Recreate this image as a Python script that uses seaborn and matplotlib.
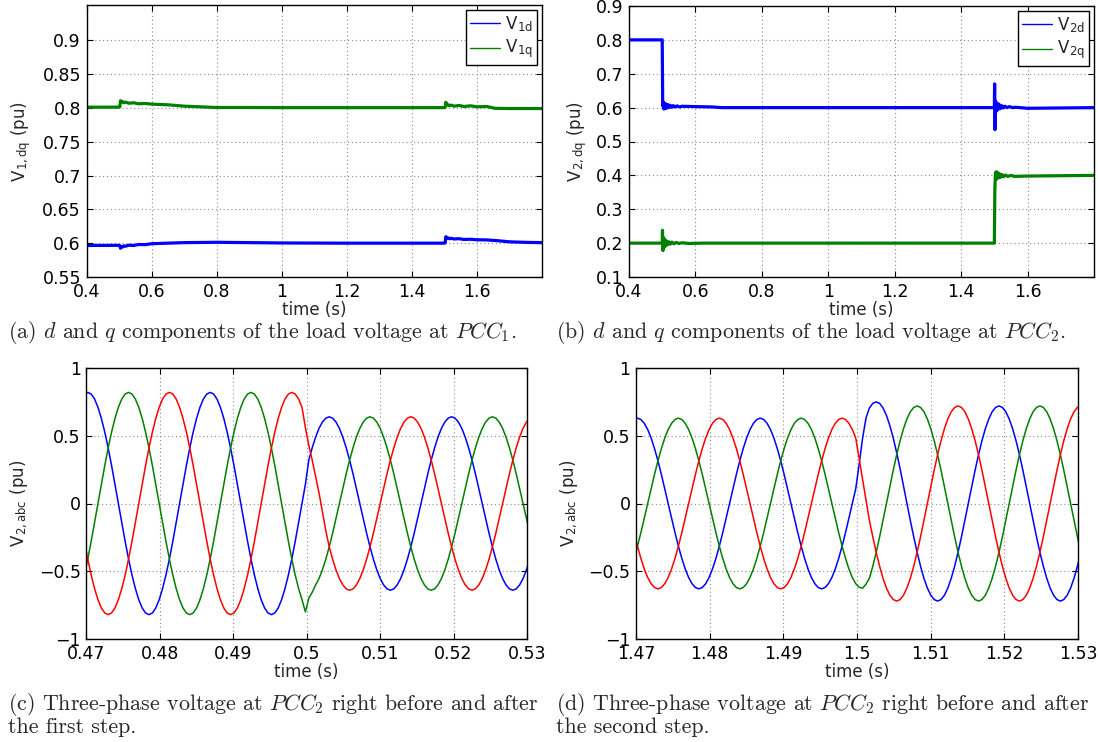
import numpy as np
import matplotlib
matplotlib.use("Agg")
import matplotlib.pyplot as plt
from matplotlib.ticker import FuncFormatter
import seaborn as sns

# ---------------- (a) dq voltage at PCC1
t_1q = [0.400, 0.500, 0.5025, 0.5045, 0.507, 0.510, 0.515, 0.520, 0.530, 0.545,
        0.560, 0.580, 0.600, 0.650, 0.700, 0.750, 0.800, 0.900, 1.000, 1.200,
        1.400, 1.500, 1.5025, 1.5045, 1.507, 1.510, 1.515, 1.520, 1.530, 1.545,
        1.560, 1.580, 1.600, 1.630, 1.655, 1.700, 1.800]
v_1q = [0.8010, 0.8010, 0.8015, 0.8105, 0.8085, 0.8095, 0.8075, 0.8085, 0.8068, 0.8075,
        0.8060, 0.8065, 0.8055, 0.8045, 0.8025, 0.8015, 0.8005, 0.8005, 0.8003, 0.8003,
        0.8003, 0.8003, 0.8010, 0.8082, 0.8045, 0.8050, 0.8030, 0.8040, 0.8025, 0.8035,
        0.8020, 0.8030, 0.8015, 0.8020, 0.7993, 0.7990, 0.7990]
t_1d = [0.400, 0.500, 0.5025, 0.5045, 0.507, 0.510, 0.515, 0.520, 0.530, 0.545,
        0.560, 0.580, 0.600, 0.650, 0.700, 0.800, 0.900, 1.000, 1.200, 1.400,
        1.500, 1.5025, 1.5045, 1.507, 1.510, 1.515, 1.520, 1.530, 1.545, 1.560,
        1.580, 1.600, 1.630, 1.660, 1.700, 1.750, 1.800]
v_1d = [0.5966, 0.5968, 0.5965, 0.5925, 0.5950, 0.5942, 0.5960, 0.5955, 0.5970, 0.5966,
        0.5980, 0.5978, 0.5992, 0.6000, 0.6008, 0.6013, 0.6008, 0.6003, 0.6000, 0.6000,
        0.6000, 0.6005, 0.6095, 0.6075, 0.6082, 0.6066, 0.6072, 0.6062, 0.6066, 0.6055,
        0.6058, 0.6050, 0.6048, 0.6038, 0.6020, 0.6012, 0.6008]

# ---------------- (b) dq voltage at PCC2
t_2d = [0.400, 0.500, 0.5015, 0.503, 0.505, 0.507, 0.509, 0.511, 0.514, 0.517,
        0.520, 0.524, 0.528, 0.533, 0.538, 0.545, 0.552, 0.560, 0.600, 0.650,
        0.680, 1.500, 1.5008, 1.5018, 1.503, 1.505, 1.508, 1.511, 1.514, 1.518,
        1.522, 1.527, 1.532, 1.538, 1.545, 1.555, 1.565, 1.600, 1.700, 1.800]
v_2d = [0.800, 0.800, 0.605, 0.617, 0.596, 0.613, 0.597, 0.611, 0.599, 0.609,
        0.600, 0.607, 0.601, 0.606, 0.602, 0.605, 0.602, 0.604, 0.603, 0.602,
        0.600, 0.600, 0.670, 0.535, 0.620, 0.588, 0.614, 0.594, 0.610, 0.597,
        0.606, 0.599, 0.604, 0.600, 0.603, 0.600, 0.601, 0.598, 0.599, 0.600]
t_2q = [0.400, 0.500, 0.5008, 0.5022, 0.504, 0.506, 0.508, 0.510, 0.513, 0.516,
        0.520, 0.524, 0.529, 0.535, 0.542, 0.550, 0.560, 0.580, 0.620, 1.500,
        1.5015, 1.503, 1.5045, 1.506, 1.508, 1.511, 1.514, 1.518, 1.522, 1.527,
        1.533, 1.540, 1.550, 1.560, 1.600, 1.700, 1.800]
v_2q = [0.200, 0.200, 0.238, 0.178, 0.216, 0.188, 0.210, 0.192, 0.206, 0.195,
        0.204, 0.197, 0.203, 0.198, 0.202, 0.199, 0.201, 0.199, 0.200, 0.200,
        0.360, 0.400, 0.410, 0.388, 0.410, 0.392, 0.406, 0.394, 0.403, 0.396,
        0.401, 0.397, 0.400, 0.397, 0.398, 0.399, 0.400]

# ---------------- (c) abc voltage at PCC2 around the first step
# samples every 1/36 of a 60 Hz cycle, first sample just before 0.47 s
t_c = 0.4702 + (np.arange(132) - 1) / 2160.0
va_c = ([0.808]
        + [0.820, 0.808, 0.771, 0.710, 0.628, 0.527, 0.410, 0.280, 0.142, 0.0, -0.142, -0.280,
           -0.410, -0.527, -0.628, -0.710, -0.771, -0.808, -0.820, -0.808, -0.771, -0.710, -0.628, -0.527,
           -0.410, -0.280, -0.142, 0.0, 0.142, 0.280, 0.410, 0.527, 0.628, 0.710, 0.771, 0.808]
        + [0.820, 0.808, 0.771, 0.710, 0.628, 0.527, 0.410, 0.280, 0.142, 0.0, -0.142, -0.280,
           -0.410, -0.527, -0.628, -0.710, -0.771, -0.808, -0.820, -0.808, -0.771, -0.710, -0.628, -0.527,
           -0.410, -0.280, -0.142, 0.0, 0.142]
        + [0.320, 0.411, 0.490, 0.554, 0.601, 0.630]
        + [0.640, 0.630, 0.601, 0.554, 0.490, 0.411, 0.320, 0.219, 0.111, 0.0, -0.111, -0.219,
           -0.320, -0.411, -0.490, -0.554, -0.601, -0.630, -0.640, -0.630, -0.601, -0.554, -0.490, -0.411,
           -0.320, -0.219, -0.111, 0.0, 0.111, 0.219, 0.320, 0.411, 0.490, 0.554, 0.601, 0.630]
        + [0.640, 0.630, 0.601, 0.554, 0.490, 0.411, 0.320, 0.219, 0.111, 0.0, -0.111, -0.219,
           -0.320, -0.411, -0.490, -0.554, -0.601, -0.630, -0.640, -0.630, -0.601, -0.554, -0.490, -0.411])
vb_c = ([-0.527, -0.410, -0.280, -0.142, 0.0, 0.142, 0.280, 0.410, 0.527, 0.628, 0.710, 0.771, 0.808]
        + [0.820, 0.808, 0.771, 0.710, 0.628, 0.527, 0.410, 0.280, 0.142, 0.0, -0.142, -0.280,
           -0.410, -0.527, -0.628, -0.710, -0.771, -0.808, -0.820, -0.808, -0.771, -0.710, -0.628, -0.527,
           -0.410, -0.280, -0.142, 0.0, 0.142, 0.280, 0.410, 0.527, 0.628, 0.710, 0.771, 0.808]
        + [0.820, 0.808, 0.771, 0.710, 0.628, 0.527, 0.410, 0.280, 0.142, 0.0, -0.142, -0.280,
           -0.410, -0.527, -0.628, -0.710, -0.800]
        + [-0.700, -0.655, -0.601, -0.554, -0.490, -0.411]
        + [-0.320, -0.219, -0.111, 0.0, 0.111, 0.219, 0.320, 0.411, 0.490, 0.554, 0.601, 0.630]
        + [0.640, 0.630, 0.601, 0.554, 0.490, 0.411, 0.320, 0.219, 0.111, 0.0, -0.111, -0.219,
           -0.320, -0.411, -0.490, -0.554, -0.601, -0.630, -0.640, -0.630, -0.601, -0.554, -0.490, -0.411,
           -0.320, -0.219, -0.111, 0.0, 0.111, 0.219, 0.320, 0.411, 0.490, 0.554, 0.601, 0.630]
        + [0.640, 0.630, 0.601, 0.554, 0.490, 0.411, 0.320, 0.219, 0.111, 0.0, -0.111, -0.219])
vc_c = ([-0.280, -0.410, -0.527, -0.628, -0.710, -0.771, -0.808, -0.820, -0.808, -0.771, -0.710, -0.628,
         -0.527, -0.410, -0.280, -0.142, 0.0, 0.142, 0.280, 0.410, 0.527, 0.628, 0.710, 0.771, 0.808]
        + [0.820, 0.808, 0.771, 0.710, 0.628, 0.527, 0.410, 0.280, 0.142, 0.0, -0.142, -0.280,
           -0.410, -0.527, -0.628, -0.710, -0.771, -0.808, -0.820, -0.808, -0.771, -0.710, -0.628, -0.527,
           -0.410, -0.280, -0.142, 0.0, 0.142, 0.280, 0.410, 0.527, 0.628, 0.710, 0.771, 0.808]
        + [0.820, 0.808, 0.771, 0.710, 0.560]
        + [0.430, 0.320, 0.200, 0.080, -0.060, -0.200, -0.320, -0.411, -0.490, -0.554, -0.601, -0.630,
           -0.640, -0.630, -0.601, -0.554, -0.490, -0.411, -0.320, -0.219, -0.111, 0.0, 0.111, 0.219,
           0.320, 0.411, 0.490, 0.554, 0.601, 0.630]
        + [0.640, 0.630, 0.601, 0.554, 0.490, 0.411, 0.320, 0.219, 0.111, 0.0, -0.111, -0.219,
           -0.320, -0.411, -0.490, -0.554, -0.601, -0.630, -0.640, -0.630, -0.601, -0.554, -0.490, -0.411,
           -0.320, -0.219, -0.111, 0.0, 0.111, 0.219, 0.320, 0.411, 0.490, 0.554, 0.601, 0.630])

# ---------------- (d) abc voltage at PCC2 around the second step
t_d = 1.4702 + (np.arange(132) - 1) / 2160.0
va_d = ([0.620]
        + [0.630, 0.620, 0.592, 0.546, 0.483, 0.405, 0.315, 0.215, 0.109, 0.0, -0.109, -0.215,
           -0.315, -0.405, -0.483, -0.546, -0.592, -0.620, -0.630, -0.620, -0.592, -0.546, -0.483, -0.405,
           -0.315, -0.215, -0.109, 0.0, 0.109, 0.215, 0.315, 0.405, 0.483, 0.546, 0.592, 0.620]
        + [0.630, 0.620, 0.592, 0.546, 0.483, 0.405, 0.315, 0.215, 0.109, 0.0, -0.109, -0.215,
           -0.315, -0.405, -0.483, -0.546, -0.592, -0.620, -0.630, -0.620, -0.592, -0.546, -0.483, -0.405,
           -0.315, -0.215, -0.109, 0.0, 0.109]
        + [0.290, 0.480, 0.630, 0.705, 0.739, 0.750, 0.739, 0.705, 0.650, 0.575, 0.482, 0.375,
           0.257, 0.130, 0.0]
        + [-0.125, -0.246, -0.360, -0.463, -0.552, -0.624, -0.677, -0.709, -0.720, -0.709, -0.677, -0.624,
           -0.552, -0.463, -0.360, -0.246, -0.125, 0.0, 0.125, 0.246, 0.360, 0.463, 0.552, 0.624,
           0.677, 0.709]
        + [0.720, 0.709, 0.677, 0.624, 0.552, 0.463, 0.360, 0.246, 0.125, 0.0, -0.125, -0.246,
           -0.360, -0.463, -0.552, -0.624, -0.677, -0.709, -0.720, -0.709, -0.677, -0.624, -0.552, -0.463,
           -0.360])
vb_d = ([-0.405, -0.315, -0.215, -0.109, 0.0, 0.109, 0.215, 0.315, 0.405, 0.483, 0.546, 0.592, 0.620]
        + [0.630, 0.620, 0.592, 0.546, 0.483, 0.405, 0.315, 0.215, 0.109, 0.0, -0.109, -0.215,
           -0.315, -0.405, -0.483, -0.546, -0.592, -0.620, -0.630, -0.620, -0.592, -0.546, -0.483, -0.405,
           -0.315, -0.215, -0.109, 0.0, 0.109, 0.215, 0.315, 0.405, 0.483, 0.546, 0.592, 0.620]
        + [0.630, 0.620, 0.592, 0.546, 0.483, 0.405, 0.315, 0.215, 0.109, 0.0, -0.109, -0.215,
           -0.315, -0.405, -0.483, -0.546, -0.592]
        + [-0.618, -0.625, -0.595]
        + [-0.552, -0.463, -0.360, -0.246, -0.125, 0.0, 0.125, 0.246, 0.360, 0.463, 0.552, 0.624,
           0.677, 0.709]
        + [0.720, 0.709, 0.677, 0.624, 0.552, 0.463, 0.360, 0.246, 0.125, 0.0, -0.125, -0.246,
           -0.360, -0.463, -0.552, -0.624, -0.677, -0.709, -0.720, -0.709, -0.677, -0.624, -0.552, -0.463,
           -0.360, -0.246, -0.125, 0.0, 0.125, 0.246, 0.360, 0.463, 0.552, 0.624, 0.677, 0.709]
        + [0.720, 0.709, 0.677, 0.624, 0.552, 0.463, 0.360, 0.246, 0.125, 0.0, -0.125, -0.246,
           -0.360])
vc_d = ([-0.215, -0.315, -0.405, -0.483, -0.546, -0.592, -0.620, -0.630, -0.620, -0.592, -0.546, -0.483,
         -0.405, -0.315, -0.215, -0.109, 0.0, 0.109, 0.215, 0.315, 0.405, 0.483, 0.546, 0.592, 0.620]
        + [0.630, 0.620, 0.592, 0.546, 0.483, 0.405, 0.315, 0.215, 0.109, 0.0, -0.109, -0.215,
           -0.315, -0.405, -0.483, -0.546, -0.592, -0.620, -0.630, -0.620, -0.592, -0.546, -0.483, -0.405,
           -0.315, -0.215, -0.109, 0.0, 0.109, 0.215, 0.315, 0.405, 0.483, 0.546, 0.592, 0.620]
        + [0.630, 0.620, 0.592, 0.546, 0.483]
        + [0.330, 0.175, 0.020]
        + [-0.125, -0.246, -0.360, -0.463, -0.552, -0.624, -0.677, -0.709, -0.720, -0.709, -0.677, -0.624,
           -0.552, -0.463, -0.360, -0.246, -0.125, 0.0, 0.125, 0.246, 0.360, 0.463, 0.552, 0.624,
           0.677, 0.709]
        + [0.720, 0.709, 0.677, 0.624, 0.552, 0.463, 0.360, 0.246, 0.125, 0.0, -0.125, -0.246,
           -0.360, -0.463, -0.552, -0.624, -0.677, -0.709, -0.720, -0.709, -0.677, -0.624, -0.552, -0.463,
           -0.360, -0.246, -0.125, 0.0, 0.125, 0.246, 0.360, 0.463, 0.552, 0.624, 0.677, 0.709]
        + [0.720])

captions = [
    ["(a) $d$ and $q$ components of the load voltage at $PCC_{\\mathsf{1}}$."],
    ["(b) $d$ and $q$ components of the load voltage at $PCC_{\\mathsf{2}}$."],
    ["(c) Three-phase voltage at $PCC_{\\mathsf{2}}$ right before and after", "the first step."],
    ["(d) Three-phase voltage at $PCC_{\\mathsf{2}}$ right before and after", "the second step."],
]

BLUE, GREEN, RED = "#0000ff", "#008000", "#ff0000"
W, H = 1098, 742

sns.set_style("ticks", {"xtick.direction": "in", "ytick.direction": "in"})
plt.rcParams["font.family"] = ["DejaVu Sans"]
plt.rcParams["mathtext.fontset"] = "custom"
plt.rcParams["mathtext.rm"] = "DejaVu Sans"
plt.rcParams["mathtext.it"] = "cmmi10"
plt.rcParams["mathtext.sf"] = "cmr10"
plt.rcParams["axes.unicode_minus"] = True


def fmt(v, pos):
    return ("%g" % v).replace("-", "\u2212")


def make_axes(fig, left, right, top, bottom):
    return fig.add_axes([left / W, 1 - bottom / H, (right - left) / W, (bottom - top) / H])


def style(ax, ylabel, label_x):
    ax.grid(True, linestyle=(0, (1, 2.5)), color="0.55", linewidth=0.8)
    ax.set_axisbelow(True)
    for s in ax.spines.values():
        s.set_visible(True)
        s.set_color("black")
        s.set_linewidth(1.0)
    ax.tick_params(which="both", direction="in", top=True, right=True, length=4,
                   width=0.8, labelsize=12.5, pad=4, colors="black")
    ax.xaxis.set_major_formatter(FuncFormatter(fmt))
    ax.yaxis.set_major_formatter(FuncFormatter(fmt))
    ax.set_xlabel("time (s)", fontsize=12, labelpad=0)
    ax.set_ylabel(ylabel, fontsize=12)
    ax.yaxis.set_label_coords(label_x, 0.5)


fig = plt.figure(figsize=(W / 100, H / 100), dpi=100)

# (a)
ax = make_axes(fig, 86.5, 542, 5, 277)
sns.lineplot(x=t_1d, y=v_1d, ax=ax, color=BLUE, lw=2.3, estimator=None, sort=False,
             label="$\\mathrm{V}_{\\mathrm{1d}}$")
sns.lineplot(x=t_1q, y=v_1q, ax=ax, color=GREEN, lw=2.3, estimator=None, sort=False,
             label="$\\mathrm{V}_{\\mathrm{1q}}$")
ax.set_xlim(0.4, 1.8)
ax.set_ylim(0.55, 0.952)
ax.set_xticks([0.4, 0.6, 0.8, 1.0, 1.2, 1.4, 1.6])
ax.set_yticks([0.55, 0.6, 0.65, 0.7, 0.75, 0.8, 0.85, 0.9])
style(ax, "$\\mathrm{V}_{\\mathrm{1,dq}}$ (pu)", -0.115)
axes_ab = [ax]

# (b)
ax = make_axes(fig, 629, 1094, 6, 277)
sns.lineplot(x=t_2d, y=v_2d, ax=ax, color=BLUE, lw=2.3, estimator=None, sort=False,
             label="$\\mathrm{V}_{\\mathrm{2d}}$")
sns.lineplot(x=t_2q, y=v_2q, ax=ax, color=GREEN, lw=2.3, estimator=None, sort=False,
             label="$\\mathrm{V}_{\\mathrm{2q}}$")
ax.set_xlim(0.4, 1.8)
ax.set_ylim(0.1, 0.9)
ax.set_xticks([0.4, 0.6, 0.8, 1.0, 1.2, 1.4, 1.6])
ax.set_yticks([0.1, 0.2, 0.3, 0.4, 0.5, 0.6, 0.7, 0.8, 0.9])
style(ax, "$\\mathrm{V}_{\\mathrm{2,dq}}$ (pu)", -0.083)
axes_ab.append(ax)

for ax in axes_ab:
    leg = ax.legend(loc="upper right", fontsize=12, frameon=True, fancybox=False,
                    framealpha=1, edgecolor="black", handlelength=1.8,
                    handletextpad=0.3, labelspacing=0.25, borderpad=0.25,
                    borderaxespad=0.3)
    leg.get_frame().set_linewidth(1.0)
    for ln in leg.get_lines():
        ln.set_linewidth(1.0)

# (c) and (d)
for (left, right, t, va, vb, vc, xt, lx) in [
        (86.3, 527, t_c, va_c, vb_c, vc_c, [0.47, 0.48, 0.49, 0.50, 0.51, 0.52, 0.53], -0.128),
        (636, 1078, t_d, va_d, vb_d, vc_d, [1.47, 1.48, 1.49, 1.50, 1.51, 1.52, 1.53], -0.127)]:
    ax = make_axes(fig, left, right, 368, 639)
    sns.lineplot(x=t, y=va, ax=ax, color=BLUE, lw=1.1, estimator=None, sort=False)
    sns.lineplot(x=t, y=vb, ax=ax, color=GREEN, lw=1.1, estimator=None, sort=False)
    sns.lineplot(x=t, y=vc, ax=ax, color=RED, lw=1.1, estimator=None, sort=False)
    ax.set_xlim(xt[0], xt[-1])
    ax.set_ylim(-1, 1)
    ax.set_xticks(xt)
    ax.set_yticks([-1, -0.5, 0, 0.5, 1])
    style(ax, "$\\mathrm{V}_{\\mathrm{2,abc}}$ (pu)", lx)

# sub-figure captions
cap_pos = [(8, [333]), (556, [333]), (8, [705, 727]), (556, [705, 727])]
for (x, ys), lines in zip(cap_pos, captions):
    for y, line in zip(ys, lines):
        fig.text(x / W, 1 - y / H, line, family="cmr10", fontsize=15.8,
                 ha="left", va="center")

fig.savefig("out.png", dpi=100)
